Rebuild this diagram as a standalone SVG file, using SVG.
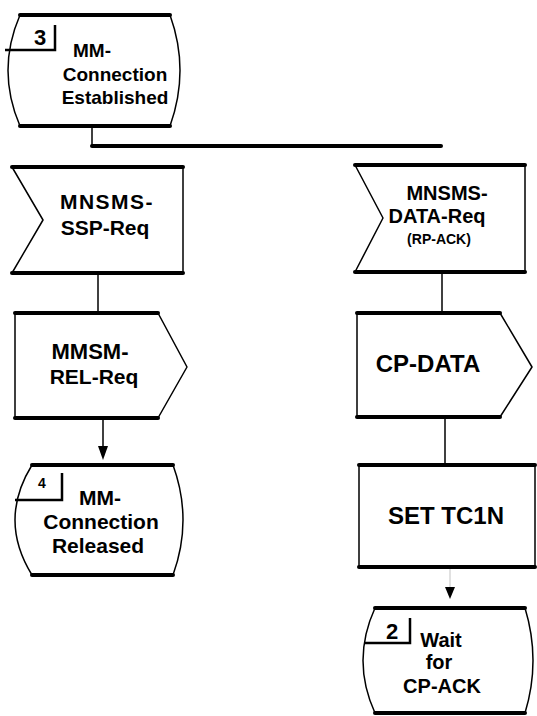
<svg xmlns="http://www.w3.org/2000/svg" width="537" height="716" viewBox="0 0 537 716">
<defs>
<style>
.shape{fill:#fff;stroke:#000;stroke-width:1.5;stroke-linejoin:round}
.edge{stroke:#000;stroke-width:4;stroke-linecap:round}
.conn{stroke:#000;stroke-width:1.5;fill:none}
.bar{stroke:#000;stroke-width:4;stroke-linecap:round}
.box{stroke:#000;stroke-width:2.5;fill:none}
text{font-family:"Liberation Sans",Arial,sans-serif;font-weight:bold;fill:#000;text-anchor:middle}
</style>
</defs>
<rect width="537" height="716" fill="#fff"/>

<g id="connectors">
<line class="conn" x1="92" y1="126" x2="92" y2="146"/>
<line class="bar" x1="92" y1="146" x2="441" y2="146"/>
<line class="conn" x1="98" y1="273" x2="98" y2="313"/>
<line class="conn" x1="442" y1="272" x2="442" y2="313"/>
<line class="conn" x1="103" y1="418" x2="103" y2="446"/>
<path d="M98,446 L108,446 L103,460 Z" fill="#000"/>
<line class="conn" x1="445" y1="417" x2="445" y2="465"/>
<line x1="450" y1="567" x2="450" y2="587" stroke="#000" stroke-width="0.6" stroke-opacity="0.4"/>
<path d="M445,587 L455,587 L450,599 Z" fill="#000"/>
</g>

<g id="state3">
<path class="shape" d="M20,15 L170,15 Q190,70.5 170,126 L20,126 Q-4,70.5 20,15 Z"/>
<line class="edge" x1="20" y1="15" x2="170" y2="15"/>
<line class="edge" x1="20" y1="126" x2="170" y2="126"/>
<polyline class="box" points="5,50 55,50 55,25"/>
<text x="40" y="45" font-size="22">3</text>
<text x="92" y="57" font-size="19">MM-</text>
<text x="115" y="81" font-size="19">Connection</text>
<text x="115" y="104" font-size="19">Established</text>
</g>

<g id="recv_ssp">
<path class="shape" d="M12,167 L183,167 L183,273 L12,273 L43,220 Z"/>
<line class="edge" x1="12" y1="167" x2="183" y2="167"/>
<line class="edge" x1="12" y1="273" x2="183" y2="273"/>
<text x="107" y="209" font-size="21" letter-spacing="1.5">MNSMS-</text>
<text x="105" y="235" font-size="21">SSP-Req</text>
</g>

<g id="recv_data">
<path class="shape" d="M355,165 L525,165 L525,272 L355,272 L383,218 Z"/>
<line class="edge" x1="355" y1="165" x2="525" y2="165"/>
<line class="edge" x1="355" y1="272" x2="525" y2="272"/>
<text x="447" y="200" font-size="20">MNSMS-</text>
<text x="437" y="223" font-size="20">DATA-Req</text>
<text x="439" y="244" font-size="14">(RP-ACK)</text>
</g>

<g id="send_rel">
<path class="shape" d="M15,313 L158,313 L187,367 L158,418 L15,418 Z"/>
<line class="edge" x1="15" y1="313" x2="158" y2="313"/>
<line class="edge" x1="15" y1="418" x2="158" y2="418"/>
<text x="90" y="359" font-size="22">MMSM-</text>
<text x="94" y="384" font-size="21">REL-Req</text>
</g>

<g id="send_cpdata">
<path class="shape" d="M357,313 L500,313 L532,367 L500,417 L357,417 Z"/>
<line class="edge" x1="357" y1="313" x2="500" y2="313"/>
<line class="edge" x1="357" y1="417" x2="500" y2="417"/>
<text x="428" y="372" font-size="24">CP-DATA</text>
</g>

<g id="state4">
<path class="shape" d="M32,465 L173,465 Q193,520 173,575 L32,575 Q-2,520 32,465 Z"/>
<line class="edge" x1="32" y1="465" x2="173" y2="465"/>
<line class="edge" x1="32" y1="575" x2="173" y2="575"/>
<polyline class="box" points="15,500 62,500 62,473"/>
<text x="42" y="488" font-size="14">4</text>
<text x="100" y="505" font-size="21">MM-</text>
<text x="101" y="529" font-size="21">Connection</text>
<text x="98" y="553" font-size="21">Released</text>
</g>

<g id="task_tc1n">
<rect class="shape" x="359" y="465" width="176" height="102"/>
<line class="edge" x1="359" y1="465" x2="535" y2="465"/>
<line class="edge" x1="359" y1="567" x2="535" y2="567"/>
<text x="446" y="524" font-size="24">SET TC1N</text>
</g>

<g id="state2">
<path class="shape" d="M375,608 L525,608 Q541,660.5 525,713 L375,713 Q351,660.5 375,608 Z"/>
<line class="edge" x1="375" y1="608" x2="525" y2="608"/>
<line class="edge" x1="375" y1="713" x2="525" y2="713"/>
<polyline class="box" points="365,643 410,643 410,618"/>
<text x="392" y="639" font-size="22">2</text>
<text x="441" y="647" font-size="20">Wait</text>
<text x="439" y="669" font-size="20">for</text>
<text x="442" y="693" font-size="20">CP-ACK</text>
</g>
</svg>
